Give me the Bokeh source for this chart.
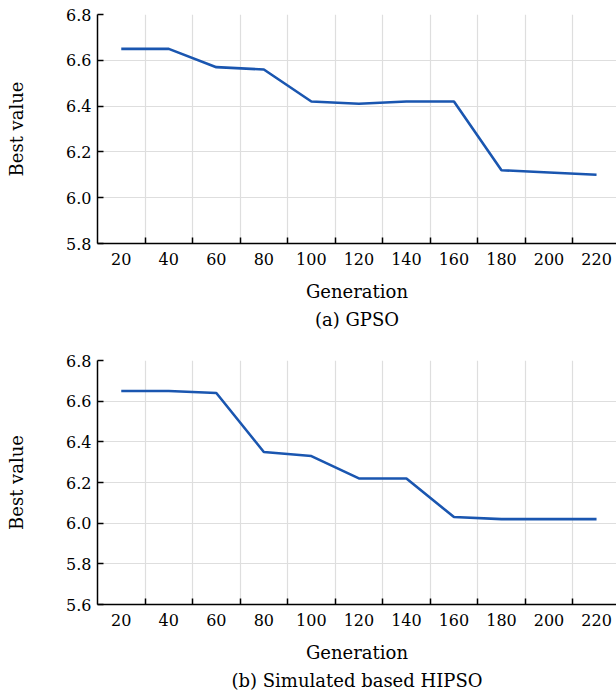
from bokeh.plotting import figure
from bokeh.layouts import column
from bokeh.models import FixedTicker, PrintfTickFormatter, Title, Range1d
from bokeh.embed import file_html
from bokeh.resources import INLINE

# ---- data ----
generations = [20, 40, 60, 80, 100, 120, 140, 160, 180, 200, 220]
gpso_best = [6.65, 6.65, 6.57, 6.56, 6.42, 6.41, 6.42, 6.42, 6.12, 6.11, 6.10]
hipso_best = [6.65, 6.65, 6.64, 6.35, 6.33, 6.22, 6.22, 6.03, 6.02, 6.02, 6.02]

x_label_ticks = [20, 40, 60, 80, 100, 120, 140, 160, 180, 200, 220]
x_mark_ticks = [30, 50, 70, 90, 110, 130, 150, 170, 190, 210]
y_ticks_a = [5.8, 6.0, 6.2, 6.4, 6.6, 6.8]
y_ticks_b = [5.6, 5.8, 6.0, 6.2, 6.4, 6.6, 6.8]

captions = ["(a) GPSO", "(b) Simulated based HIPSO"]

FONT = "'DejaVu Serif', serif"
LINE = "#1a56b0"
GRID = "#dedede"


def make_panel(yvals, yticks, yrange, caption, top_border, frame_h):
    p = figure(width=616, frame_width=519, frame_height=frame_h,
               x_range=Range1d(10, 228.4), y_range=Range1d(*yrange),
               output_backend="svg", toolbar_location=None,
               min_border_left=97, min_border_right=0,
               min_border_top=top_border, min_border_bottom=0)
    p.outline_line_color = None
    p.background_fill_color = "white"
    p.border_fill_color = "white"

    p.line(generations, yvals, line_color=LINE, line_width=2.6)

    # x axis
    xa = p.xaxis[0]
    xa.ticker = FixedTicker(ticks=x_label_ticks, minor_ticks=x_mark_ticks)
    xa.major_tick_line_color = None
    xa.minor_tick_in = 6
    xa.minor_tick_out = 0
    xa.minor_tick_line_color = "black"
    xa.minor_tick_line_width = 1.5
    xa.axis_line_color = "black"
    xa.axis_line_width = 1.5
    xa.major_label_text_font = FONT
    xa.major_label_text_font_size = "16px"
    xa.major_label_text_color = "black"
    xa.major_label_standoff = 3
    xa.axis_label = "Generation"
    xa.axis_label_text_font = FONT
    xa.axis_label_text_font_size = "18px"
    xa.axis_label_text_font_style = "normal"
    xa.axis_label_text_color = "black"
    xa.axis_label_standoff = 13

    # y axis
    ya = p.yaxis[0]
    ya.ticker = FixedTicker(ticks=yticks)
    ya.formatter = PrintfTickFormatter(format="%.1f")
    ya.major_tick_in = 6
    ya.major_tick_out = 0
    ya.major_tick_line_color = "black"
    ya.major_tick_line_width = 1.5
    ya.minor_tick_line_color = None
    ya.axis_line_color = "black"
    ya.axis_line_width = 1.5
    ya.major_label_text_font = FONT
    ya.major_label_text_font_size = "16px"
    ya.major_label_text_color = "black"
    ya.major_label_standoff = 6
    ya.axis_label = "Best value"
    ya.axis_label_text_font = FONT
    ya.axis_label_text_font_size = "18px"
    ya.axis_label_text_font_style = "normal"
    ya.axis_label_text_color = "black"
    ya.axis_label_standoff = 36

    # grids
    p.xgrid.ticker = FixedTicker(ticks=x_mark_ticks)
    p.xgrid.grid_line_color = GRID
    p.xgrid.grid_line_width = 1.2
    p.ygrid.ticker = FixedTicker(ticks=yticks)
    p.ygrid.grid_line_color = GRID
    p.ygrid.grid_line_width = 1.2

    p.add_layout(Title(text=caption, align="center", text_font=FONT,
                       text_font_size="18px", text_font_style="normal",
                       text_color="black", standoff=4), "below")
    return p


p1 = make_panel(gpso_best, y_ticks_a, (5.8, 6.8), captions[0], 14, 229)
p2 = make_panel(hipso_best, y_ticks_b, (5.6, 6.8), captions[1], 29, 244)

layout = column(p1, p2, spacing=0)
open("out.html", "w").write(file_html(layout, INLINE))
